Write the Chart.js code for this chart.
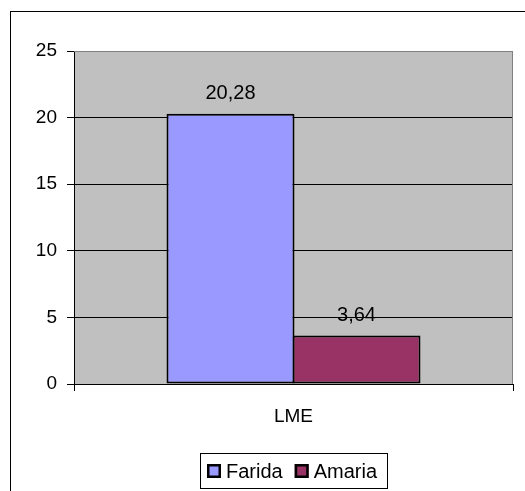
<!DOCTYPE html>
<html>
<head>
<meta charset="utf-8">
<script src="https://cdn.jsdelivr.net/npm/chart.js@4/dist/chart.umd.min.js"></script>
<style>
  html, body { margin: 0; padding: 0; background: #fff; }
  #wrap { width: 525px; height: 491px; position: relative; }
</style>
</head>
<body>
<div id="wrap"><canvas id="lmeChart"></canvas></div>
<script>
// données du graphique
const categories = ['LME'];
const seriesNames = ['Farida', 'Amaria'];
const faridaValues = [20.28];
const amariaValues = [3.64];
const yTicks = [0, 5, 10, 15, 20, 25];

const FONT = "'Liberation Sans', Arial, sans-serif";

// fond gris de la zone de tracé, cadre extérieur et légende encadrée
const plotBackground = {
    id: 'plotBackground',
    beforeDraw(chart) {
        const { ctx, chartArea: a } = chart;
        ctx.save();
        ctx.fillStyle = '#fff';
        ctx.fillRect(0, 0, chart.width, chart.height);
        ctx.strokeStyle = '#000';
        ctx.lineWidth = 1;
        ctx.strokeRect(10.5, 11.5, 530, 500);
        ctx.fillStyle = '#C0C0C0';
        ctx.fillRect(a.left, a.top, a.right - a.left, a.bottom - a.top);
        ctx.restore();
    },
    afterDraw(chart) {
        const { ctx, chartArea: a } = chart;
        ctx.save();
        ctx.strokeStyle = '#808080';
        ctx.lineWidth = 1;
        ctx.beginPath();
        ctx.moveTo(a.left, a.top + 0.5);
        ctx.lineTo(a.right - 0.5, a.top + 0.5);
        ctx.lineTo(a.right - 0.5, a.bottom);
        ctx.stroke();

        // légende maison, centrée sous la zone de tracé
        ctx.font = '20px ' + FONT;
        const box = 14, gap = 5, spacing = 12, padL = 7, padR = 10;
        const items = chart.data.datasets.map(ds => ({
            text: ds.label, color: ds.backgroundColor, w: ctx.measureText(ds.label).width
        }));
        let total = padL + padR;
        items.forEach((it, i) => { total += box + gap + it.w + (i ? spacing : 0); });
        const fx = Math.round((a.left + a.right) / 2 - total / 2);
        const fy = 453, fh = 35;
        ctx.strokeStyle = '#000';
        ctx.lineWidth = 1;
        ctx.strokeRect(fx + 0.5, fy + 0.5, Math.round(total), fh);
        const cy = fy + fh / 2 + 0.5;
        let x = fx + padL;
        items.forEach((it, i) => {
            if (i) x += spacing;
            ctx.fillStyle = it.color;
            ctx.fillRect(x, cy - box / 2, box, box);
            ctx.lineWidth = 2.5;
            ctx.strokeRect(x + 1.25, cy - box / 2 + 1.25, box - 2.5, box - 2.5);
            x += box + gap;
            ctx.fillStyle = '#000';
            ctx.textAlign = 'left';
            ctx.textBaseline = 'middle';
            ctx.fillText(it.text, x, cy + 1);
            x += it.w;
        });
        ctx.restore();
    }
};

// étiquettes de valeurs au-dessus des barres
const valueLabels = {
    id: 'valueLabels',
    afterDatasetsDraw(chart) {
        const { ctx } = chart;
        ctx.save();
        ctx.font = '20px ' + FONT;
        ctx.fillStyle = '#000';
        ctx.textAlign = 'center';
        ctx.textBaseline = 'middle';
        chart.data.datasets.forEach((ds, i) => {
            chart.getDatasetMeta(i).data.forEach((bar, j) => {
                const txt = ds.data[j].toFixed(2).replace('.', ',');
                ctx.fillText(txt, bar.x, bar.y - 20);
            });
        });
        ctx.restore();
    }
};

const barStyle = {
    borderColor: '#000',
    borderWidth: 2,
    borderSkipped: false,
    categoryPercentage: 0.574,
    barPercentage: 1.016
};

new Chart(document.getElementById('lmeChart'), {
    type: 'bar',
    data: {
        labels: categories,
        datasets: [
            Object.assign({ label: seriesNames[0], data: faridaValues, backgroundColor: '#9999FF' }, barStyle),
            Object.assign({ label: seriesNames[1], data: amariaValues, backgroundColor: '#993366' }, barStyle)
        ]
    },
    options: {
        responsive: true,
        maintainAspectRatio: false,
        animation: false,
        layout: { padding: { left: 10, right: 12, top: 51, bottom: 47 } },
        scales: {
            x: {
                grid: { drawOnChartArea: false, color: '#000', tickLength: 7 },
                border: { color: '#000' },
                ticks: { color: '#000', font: { family: FONT, size: 19 }, padding: 14 },
                afterFit: s => { s.height = 60; }
            },
            y: {
                min: 0,
                max: 25,
                afterBuildTicks: s => { s.ticks = yTicks.map(v => ({ value: v })); },
                grid: {
                    color: c => (c.tick && c.tick.value === 25 ? '#808080' : '#000'),
                    tickColor: '#000',
                    tickLength: 7
                },
                border: { color: '#000' },
                ticks: { color: '#000', font: { family: FONT, size: 19 }, padding: 10 },
                afterFit: s => { s.width = 64; }
            }
        },
        plugins: {
            legend: { display: false },
            tooltip: { enabled: false }
        }
    },
    plugins: [plotBackground, valueLabels]
});
</script>
</body>
</html>
